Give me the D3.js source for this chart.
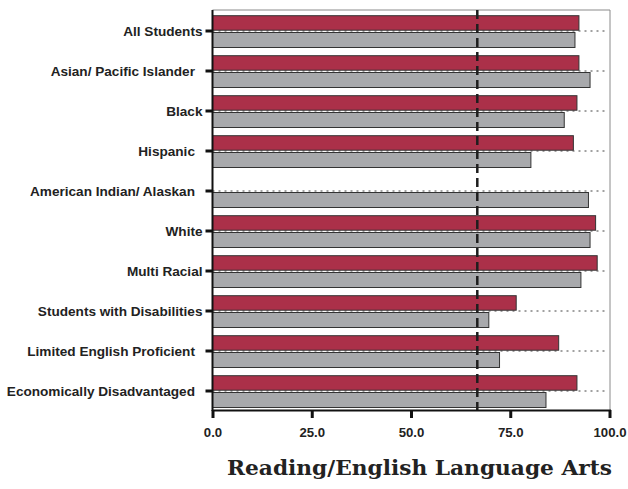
<!DOCTYPE html>
<html>
<head>
<meta charset="utf-8">
<script src="https://cdn.jsdelivr.net/npm/d3@7/dist/d3.min.js"></script>
<style>
  html, body { margin: 0; padding: 0; background: #fff; }
  svg { display: block; }
</style>
</head>
<body>
<svg id="chart" width="628" height="489"></svg>
<script>
// Student groups, top to bottom
const categories = [
  "All Students",
  "Asian/ Pacific Islander ",
  "Black",
  "Hispanic ",
  "American Indian/ Alaskan ",
  "White",
  "Multi Racial",
  "Students with Disabilities",
  "Limited English Proficient ",
  "Economically Disadvantaged "
];
// Upper bar in each group (no value reported for American Indian/ Alaskan)
const groupRate = [92.3, 92.3, 91.8, 90.9, null, 96.5, 96.9, 76.5, 87.2, 91.8];
// Lower bar in each group
const comparisonRate = [91.3, 95.1, 88.6, 80.2, 94.7, 95.1, 92.8, 69.6, 72.3, 84.0];
// Vertical reference line
const targetRate = [66.7];
const xTicks = [0, 25, 50, 75, 100];
const title = "Reading/English Language Arts";

const svg = d3.select("#chart");
const plot = { left: 212.5, right: 609.5, top: 10, bottom: 410 };

const x = d3.scaleLinear().domain([0, 100]).range([plot.left, plot.right]);
const y = d3.scaleBand().domain(categories).range([plot.top + 1, plot.bottom + 1]).paddingInner(0);
const mid = c => y(c) + y.bandwidth() / 2;

// Frame: light top and right edges
svg.append("line").attr("x1", plot.left).attr("x2", plot.right + 0.5)
  .attr("y1", plot.top).attr("y2", plot.top)
  .attr("stroke", "#8a8a8a").attr("stroke-width", 1);
svg.append("line").attr("x1", plot.right + 0.5).attr("x2", plot.right + 0.5)
  .attr("y1", plot.top).attr("y2", plot.bottom)
  .attr("stroke", "#8a8a8a").attr("stroke-width", 1);

// Dotted line through the middle of each group
svg.append("g").selectAll("line").data(categories).join("line")
  .attr("x1", plot.left).attr("x2", plot.right - 4)
  .attr("y1", d => mid(d)).attr("y2", d => mid(d))
  .attr("stroke", "#444").attr("stroke-width", 1)
  .attr("stroke-dasharray", "2,4");

const barH = 14.5;
const rows = categories.map((c, i) => ({ c, a: groupRate[i], b: comparisonRate[i] }));

// Upper bars
svg.append("g").selectAll("rect").data(rows.filter(r => r.a != null)).join("rect")
  .attr("x", x(0)).attr("y", r => mid(r.c) - barH - 0.8)
  .attr("width", r => x(r.a) - x(0)).attr("height", barH)
  .attr("fill", "#ab3049").attr("stroke", "#333").attr("stroke-width", 1);

// Lower bars
svg.append("g").selectAll("rect").data(rows.filter(r => r.b != null)).join("rect")
  .attr("x", x(0)).attr("y", r => mid(r.c) + 1.5)
  .attr("width", r => x(r.b) - x(0)).attr("height", barH + 0.5)
  .attr("fill", "#a8a9ac").attr("stroke", "#333").attr("stroke-width", 1);

// Dashed reference line
svg.append("g").selectAll("line").data(targetRate).join("line")
  .attr("x1", d => x(d)).attr("x2", d => x(d))
  .attr("y1", plot.top).attr("y2", plot.bottom)
  .attr("stroke", "#1e1e1e").attr("stroke-width", 2.5)
  .attr("stroke-dasharray", "9,5");

// Category axis (trailing spaces kept as non-breaking spaces)
const yAxis = svg.append("g").attr("transform", `translate(${plot.left},0)`)
  .call(d3.axisLeft(y).tickSize(7).tickPadding(3)
    .tickFormat(d => d.replace(/ +$/, m => "\u00a0".repeat(m.length * 2))));
yAxis.select(".domain").remove();
yAxis.selectAll(".tick line").attr("stroke", "#111").attr("stroke-width", 3);
yAxis.selectAll(".tick text")
  .attr("font-family", "'Liberation Sans', Arial, sans-serif")
  .attr("font-weight", "bold").attr("font-size", "13.6px").attr("fill", "#222")
  .attr("dy", "0.35em");
svg.append("line").attr("x1", plot.left).attr("x2", plot.left)
  .attr("y1", plot.top).attr("y2", plot.bottom + 1)
  .attr("stroke", "#111").attr("stroke-width", 2);

// Value axis
const xAxis = svg.append("g").attr("transform", `translate(0,${plot.bottom})`)
  .call(d3.axisBottom(x).tickValues(xTicks).tickFormat(d3.format(".1f")).tickSize(8).tickPadding(10));
xAxis.select(".domain").attr("stroke", "#111").attr("stroke-width", 2);
xAxis.selectAll(".tick line").attr("stroke", "#111").attr("stroke-width", 3);
xAxis.selectAll(".tick text")
  .attr("font-family", "'Liberation Sans', Arial, sans-serif")
  .attr("font-weight", "bold").attr("font-size", "13.2px").attr("fill", "#222");

// Title
svg.append("text").text(title)
  .attr("x", 419.5).attr("y", 475).attr("text-anchor", "middle")
  .attr("font-family", "'DejaVu Serif', 'Liberation Serif', serif")
  .attr("font-weight", "bold").attr("font-size", "20px").attr("fill", "#222")
  .attr("textLength", 385).attr("lengthAdjust", "spacingAndGlyphs");
</script>
</body>
</html>
